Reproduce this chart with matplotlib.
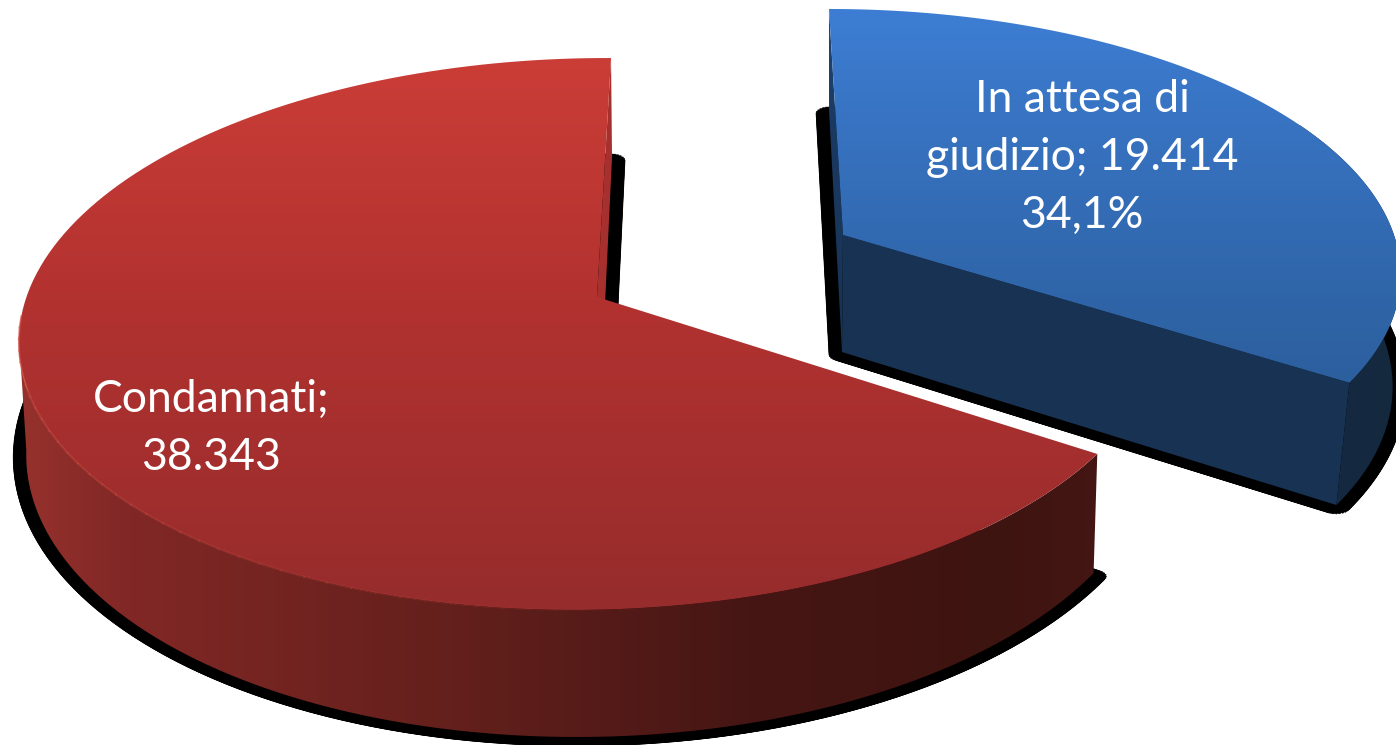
import numpy as np
import matplotlib
matplotlib.use("Agg")
import matplotlib.pyplot as plt
from matplotlib.patches import Polygon

plt.rcParams['font.family'] = ['Lato', 'DejaVu Sans']

categories = ["In attesa di giudizio", "Condannati"]
values = [19414, 38343]
shares = [34.1, 65.9]

W, H = 1396, 745

# cx, cy, a, b, s, k, m of each projected disc
blue_top = (843, 235, 551, 254.5, -15.8, 0.126, 0.0)
blue_base = (842, 352, 546, 267, -14.3, 0.103, 0.0)
red_top = (597, 297, 566, 271, 15.9, 0.134, 0.008)
red_base = (600, 409, 560, 285, 13.6, 0.131, 0.012)


def project(disc, deg):
    cx, cy, a, b, s, k, m = disc
    t = np.radians(np.asarray(deg, dtype=float))
    X, Y = np.cos(t), np.sin(t)
    w = 1 + k * Y + m * X
    return np.column_stack([cx + (a * X + s * Y) / w, cy - b * Y / w])


def arc(disc, start, end, n=160):
    return project(disc, np.linspace(start, end, n))


def fill(ax, verts, xs, colors, axis, zorder):
    # gradient image clipped to a polygon, axis 0 runs along y and 1 along x
    n = H if axis == 0 else W
    ramp = np.column_stack([np.interp(np.arange(n), xs, [c[i] for c in colors]) for i in range(3)]) / 255
    img = ramp[:, None, :] if axis == 0 else ramp[None, :, :]
    im = ax.imshow(img, extent=(0, W, H, 0), aspect='auto', zorder=zorder, interpolation='bilinear')
    patch = Polygon(verts, closed=True, transform=ax.transData, fc='none', ec='none')
    ax.add_patch(patch)
    im.set_clip_path(patch)


def shadow(ax, verts, zorder):
    # black outline spread wider sideways than downward
    for p in np.linspace(0, 2 * np.pi, 24, endpoint=False):
        off = np.array([13 * np.cos(p), 3 + 6 * np.sin(p)])
        ax.add_patch(Polygon(verts + off, closed=True, fc='black', ec='black', lw=0.5, zorder=zorder))


fig = plt.figure(figsize=(W / 100, H / 100), dpi=100)
ax = fig.add_axes([0, 0, 1, 1])

sweep = 360 * shares[0] / sum(shares)
start = 90
split = start - sweep

# blue slice, pulled away from the centre
base = np.vstack([[blue_base[0], blue_base[1]], arc(blue_base, split, start)])
shadow(ax, base, 1)
top_pt = project(blue_top, [start])[0]
top_c = project(blue_top, [split])[0]
base_pt = project(blue_base, [start])[0]
base_c = project(blue_base, [split])[0]
apex_t = np.array(blue_top[:2])
apex_b = np.array(blue_base[:2])
fill(ax, [top_pt, base_pt, apex_b, apex_t], [0, 120, 350], [(34, 72, 122), (27, 58, 98), (24, 50, 84)], 0, 2)
ax.add_patch(Polygon([apex_t, top_c, base_c, apex_b], closed=True, fc=(24 / 255, 50 / 255, 83 / 255), ec='none', zorder=2))
fill(ax, np.vstack([arc(blue_top, split, split + 60), arc(blue_base, split + 60, split)]),
     [1340, 1396], [(21, 41, 65), (20, 40, 62)], 1, 2)
fill(ax, np.vstack([apex_t, arc(blue_top, split, start)]),
     [10, 100, 300, 380], [(61, 126, 212), (57, 117, 197), (47, 101, 168), (44, 95, 158)], 0, 3)

# red slice
base = np.vstack([[red_base[0], red_base[1]], arc(red_base, start, split + 360)])
shadow(ax, base, 1)
top_pt = project(red_top, [start])[0]
top_c = project(red_top, [split])[0]
base_pt = project(red_base, [start])[0]
apex_t = np.array(red_top[:2])
apex_b = np.array(red_base[:2])
ax.add_patch(Polygon([top_pt, base_pt, apex_b, apex_t], closed=True, fc=(165 / 255, 48 / 255, 45 / 255), ec='none', zorder=2))
fill(ax, np.vstack([arc(red_top, 188, split + 360), arc(red_base, split + 360, 188)]),
     [20, 120, 450, 750, 1000, 1100], [(150, 50, 45), (130, 40, 38), (100, 32, 28), (70, 22, 20), (62, 20, 16), (68, 22, 20)], 1, 2)
fill(ax, np.vstack([apex_t, arc(red_top, start, split + 360)]),
     [58, 300, 610], [(203, 61, 55), (178, 50, 48), (150, 44, 44)], 0, 3)

# lighter rim along the front edge, fading toward the right
rim = arc(red_top, 184, 275, 40)
for i in range(len(rim) - 1):
    ax.plot(rim[i:i + 2, 0], rim[i:i + 2, 1], color=(212 / 255, 80 / 255, 70 / 255), lw=1.3,
            alpha=0.7 * (1 - i / 40), zorder=4)

labels = [
    (1082, 99, "In attesa di"),
    (1082, 158, f"giudizio; {values[0] / 1000:.3f}"),
    (1082, 215, f"{shares[0]:.1f}%".replace(".", ",")),
    (211, 399, "Condannati;"),
    (211, 457, f"{values[1] / 1000:.3f}"),
]
for x, y, txt in labels:
    ax.text(x, y, txt, color='white', fontsize=32, ha='center', va='center', zorder=6)

ax.set_xlim(0, W)
ax.set_ylim(H, 0)
ax.axis('off')
fig.savefig("out.png", dpi=100, facecolor='white')
